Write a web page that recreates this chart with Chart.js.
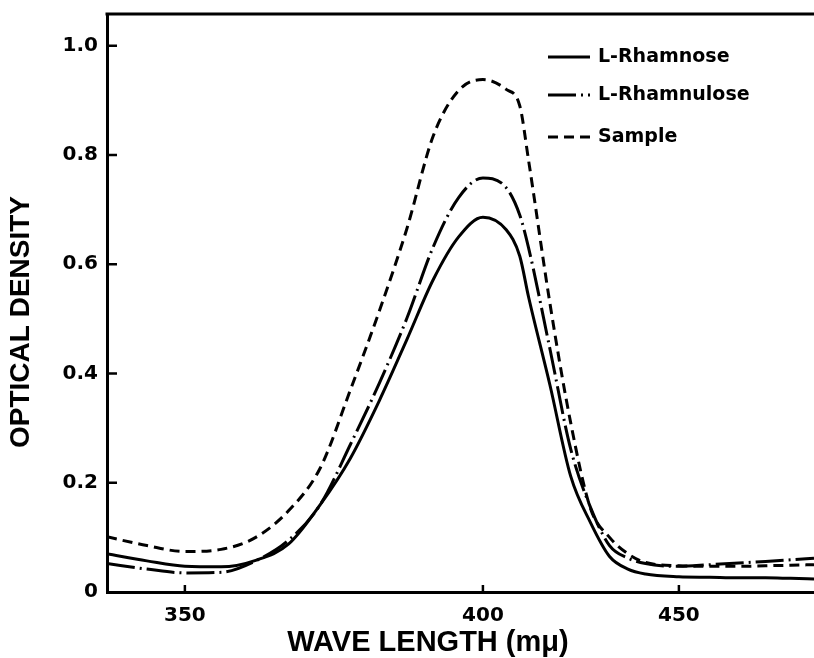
<!DOCTYPE html>
<html>
<head>
<meta charset="utf-8">
<script src="https://cdn.jsdelivr.net/npm/chart.js@4/dist/chart.umd.min.js"></script>
<style>
  html, body { margin: 0; padding: 0; background: #fff; }
  #wrap { width: 814px; height: 658px; }
</style>
</head>
<body>
<div id="wrap"><canvas id="chart"></canvas></div>
<script>
// wavelength (mμ)
const wavelengths = [340, 345, 350, 355, 360, 365, 370, 375, 380, 385, 390, 395, 400, 405, 408, 410, 415, 420, 425, 430, 435, 440, 450, 460, 470, 480, 490, 500];
const rhamnose    = [0.070, 0.057, 0.047, 0.046, 0.058, 0.088, 0.160, 0.245, 0.350, 0.462, 0.572, 0.650, 0.686, 0.663, 0.615, 0.540, 0.378, 0.212, 0.127, 0.065, 0.042, 0.033, 0.028, 0.027, 0.026, 0.026, 0.025, 0.024];
const rhamnulose  = [0.052, 0.042, 0.035, 0.036, 0.057, 0.095, 0.160, 0.270, 0.382, 0.501, 0.632, 0.722, 0.758, 0.740, 0.690, 0.630, 0.444, 0.262, 0.155, 0.085, 0.062, 0.052, 0.047, 0.050, 0.053, 0.056, 0.059, 0.062];
const sample      = [0.101, 0.085, 0.074, 0.078, 0.100, 0.149, 0.227, 0.370, 0.514, 0.665, 0.835, 0.918, 0.938, 0.920, 0.890, 0.790, 0.527, 0.310, 0.153, 0.100, 0.070, 0.054, 0.048, 0.047, 0.047, 0.048, 0.049, 0.050];

const seriesNames = ['L-Rhamnose', 'L-Rhamnulose', 'Sample'];
const xTicks = [350, 400, 450];
const yTicks = [0, 0.2, 0.4, 0.6, 0.8, 1.0];

// the old spectrophotometer chart paper is not linear in wavelength
const P = 2.33;
const warp = v => -Math.pow(400 / v, P);
const unwarp = u => 400 / Math.pow(-u, 1 / P);

class WarpScale extends Chart.LinearScale {
  getPixelForValue(v) {
    const a = warp(this.min), b = warp(this.max);
    return this.getPixelForDecimal((warp(v) - a) / (b - a));
  }
  getValueForPixel(px) {
    const a = warp(this.min), b = warp(this.max);
    return unwarp(a + this.getDecimalForPixel(px) * (b - a));
  }
}
WarpScale.id = 'warp';
WarpScale.defaults = Chart.LinearScale.defaults;
Chart.register(WarpScale);

const pts = arr => wavelengths.map((w, i) => ({ x: w, y: arr[i] }));

const tickFont = { family: 'DejaVu Sans', size: 20, weight: 'bold' };

// frame top, inward ticks, axis titles, legend
const decor = {
  id: 'decor',
  afterDraw(chart) {
    const { ctx, chartArea: a, scales: { x, y } } = chart;
    ctx.save();
    ctx.strokeStyle = '#000';
    ctx.lineWidth = 3;
    ctx.beginPath();
    ctx.moveTo(a.left - 1.5, a.top);
    ctx.lineTo(a.right, a.top);
    ctx.stroke();

    ctx.lineWidth = 2.5;
    ctx.beginPath();
    yTicks.filter(v => v > 0).forEach(v => {
      const py = y.getPixelForValue(v);
      ctx.moveTo(a.left, py); ctx.lineTo(a.left + 10, py);
    });
    xTicks.forEach(v => {
      const px = x.getPixelForValue(v);
      ctx.moveTo(px, a.bottom); ctx.lineTo(px, a.bottom - 7);
    });
    ctx.stroke();

    ctx.fillStyle = '#000';
    ctx.textAlign = 'center';
    ctx.textBaseline = 'middle';
    ctx.font = 'bold 29px "Liberation Sans"';
    ctx.fillText('WAVE LENGTH (mμ)', 428, 643);
    ctx.save();
    ctx.translate(21, 322);
    ctx.rotate(-Math.PI / 2);
    ctx.font = 'bold 28px "Liberation Sans"';
    ctx.fillText('OPTICAL DENSITY', 0, 0);
    ctx.restore();

    const rows = [57, 95, 137];
    ctx.textAlign = 'left';
    ctx.font = 'bold 19px "DejaVu Sans"';
    chart.data.datasets.forEach((ds, i) => {
      ctx.lineWidth = ds.borderWidth;
      ctx.setLineDash(ds.borderDash || []);
      ctx.beginPath();
      ctx.moveTo(548, rows[i]);
      ctx.lineTo(590, rows[i]);
      ctx.stroke();
      ctx.setLineDash([]);
      ctx.fillText(ds.label, 598, rows[i]);
    });
    ctx.restore();
  }
};

new Chart(document.getElementById('chart'), {
  type: 'line',
  data: {
    datasets: [
      { label: seriesNames[0], data: pts(rhamnose), borderColor: '#000', borderWidth: 3, pointRadius: 0, cubicInterpolationMode: 'monotone' },
      { label: seriesNames[1], data: pts(rhamnulose), borderColor: '#000', borderWidth: 3, borderDash: [28, 5, 2, 5], pointRadius: 0, cubicInterpolationMode: 'monotone' },
      { label: seriesNames[2], data: pts(sample), borderColor: '#000', borderWidth: 3, borderDash: [10, 6], pointRadius: 0, cubicInterpolationMode: 'monotone' }
    ]
  },
  options: {
    responsive: true,
    maintainAspectRatio: false,
    animation: false,
    layout: { padding: { top: 14, right: 0, left: 0, bottom: 0 } },
    plugins: { legend: { display: false }, tooltip: { enabled: false } },
    scales: {
      x: {
        type: 'warp',
        min: 340,
        max: 500,
        afterBuildTicks: s => { s.ticks = xTicks.map(v => ({ value: v })); },
        afterFit: s => { s.height = 66; s.paddingLeft = 0; s.paddingRight = 0; },
        grid: { display: true, drawOnChartArea: false, drawTicks: false },
        border: { display: true, color: '#000', width: 3 },
        ticks: { color: '#000', font: tickFont, padding: 12, maxRotation: 0, callback: v => String(v) }
      },
      y: {
        min: 0,
        max: 1.058,
        afterBuildTicks: s => { s.ticks = yTicks.map(v => ({ value: v })); },
        afterFit: s => { s.width = 107; s.paddingTop = 0; s.paddingBottom = 0; },
        grid: { display: true, drawOnChartArea: false, drawTicks: false },
        border: { display: true, color: '#000', width: 3 },
        ticks: { color: '#000', font: tickFont, padding: 9, callback: v => v === 0 ? '0' : v.toFixed(1) }
      }
    }
  },
  plugins: [decor]
});
</script>
</body>
</html>
